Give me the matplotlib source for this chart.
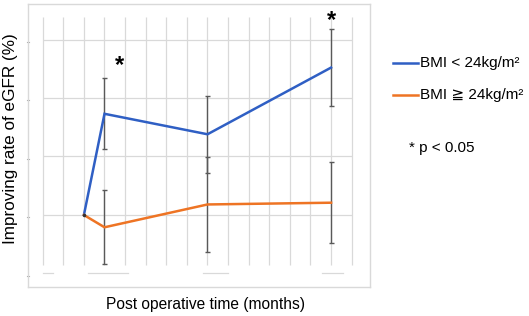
import matplotlib
matplotlib.use("Agg")
import matplotlib.pyplot as plt
from matplotlib.lines import Line2D

plt.rcParams['font.family'] = ['Liberation Sans', 'DejaVu Sans']

# ---- data (grid units, no tick labels in reference) ----
months = [0, 1, 6, 12]
blue_vals = [0.0, 1.73, 1.38, 2.52]
blue_err = [0.0, 0.61, 0.66, 0.66]
orange_vals = [0.0, -0.21, 0.18, 0.21]
orange_err = [0.0, 0.63, 0.81, 0.69]
grid_x = list(range(-2, 14))
grid_y = [0, 1, 2, 3]
star_pos = [(1.75, 2.56), (12.0, 3.32)]
labels = ["BMI < 24kg/m²", "BMI ≧ 24kg/m²"]
note = "* p < 0.05"
xlabel = "Post operative time (months)"
ylabel = "Improving rate of eGFR (%)"
base_segments = [(-2, -1.5), (0.2, 2.14), (5.78, 7.0), (11.56, 12.58)]

BLUE = "#2f5fc4"
ORANGE = "#ee7424"
GRID = "#d9d9d9"
ERR = "#595959"

W, H = 529, 316
fig = plt.figure(figsize=(W / 100, H / 100), dpi=100)
ax = fig.add_axes([28 / W, 1 - 287 / H, 342 / W, 283 / H])
ax.set_xlim(-2.714, 13.89)
ax.set_ylim(-1.231, 3.607)
ax.set_xticks([])
ax.set_yticks([])
for s in ax.spines.values():
    s.set_color(GRID)
    s.set_linewidth(1.0)

# gridlines
ax.vlines(grid_x, -0.855, 3.39, color=GRID, lw=0.9, zorder=1)
ax.hlines(grid_y, -2, 13, color=GRID, lw=0.9, zorder=1)
for a, b in base_segments:
    ax.plot([a, b], [-1, -1], color=GRID, lw=0.9, zorder=1)
# faint left ticks
for yy in [-1, 0, 1, 2, 3]:
    ax.plot([-2.78, -2.68], [yy - 0.035, yy - 0.035], color="#aaaaaa", lw=0.8,
            clip_on=False, zorder=1)

# error bars
ax.errorbar(months[1:], blue_vals[1:], yerr=blue_err[1:], fmt='none',
            ecolor=ERR, elinewidth=1.0, capsize=1.8, capthick=1.0, zorder=2)
ax.errorbar(months[1:], orange_vals[1:], yerr=orange_err[1:], fmt='none',
            ecolor=ERR, elinewidth=1.0, capsize=1.8, capthick=1.0, zorder=2)

# lines
ax.plot(months, blue_vals, color=BLUE, lw=1.8, zorder=3, solid_joinstyle='miter')
ax.plot(months, orange_vals, color=ORANGE, lw=1.8, zorder=3, solid_joinstyle='miter')
ax.plot([0], [0], 'o', color="#333333", ms=1.5, zorder=4)

for (sx, sy) in star_pos:
    ax.text(sx, sy, "*", ha='center', va='center', fontsize=17,
            fontweight='bold', color='black')

# legend (manual)
for i, (lab, col) in enumerate(zip(labels, [BLUE, ORANGE])):
    yc = 1 - (62.7 + i * 32.3) / H
    fig.add_artist(Line2D([393 / W, 418 / W], [yc, yc], color=col, lw=1.8,
                          transform=fig.transFigure))
    fig.text(420.5 / W, yc, lab, ha='left', va='center', fontsize=11)
fig.text(409 / W, 1 - 148 / H, note, ha='left', va='center', fontsize=11)

fig.text(11 / W, 1 - 139 / H, ylabel, rotation=90, ha='center', va='center', fontsize=12.3)
fig.text(205 / W, 1 - 305 / H, xlabel, ha='center', va='center', fontsize=11.2)

fig.savefig("out.png", dpi=100)
